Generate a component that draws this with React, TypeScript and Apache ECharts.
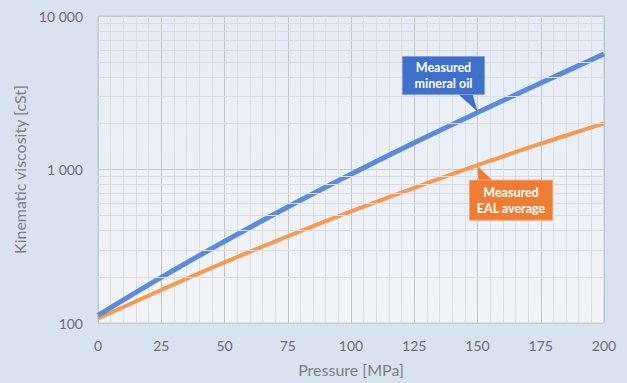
import React, { useEffect, useRef } from "react";
import * as echarts from "echarts";

const pressure = [0, 25, 50, 75, 100, 125, 150, 175, 200];
const mineralOil = [112, 198, 340, 570, 931, 1493, 2350, 3656, 5650];
const ealAverage = [107, 164, 248, 367, 533, 759, 1067, 1472, 2000];
const minorYTicks = [200, 300, 400, 500, 600, 700, 800, 900, 2000, 3000, 4000, 5000, 6000, 7000, 8000, 9000];
const xTicks = { min: 0, max: 200, interval: 25 };
const yRange = { min: 100, max: 10000 };
const calloutAt = 150;
const mineralLabel = ["Measured", "mineral oil"];
const ealLabel = ["Measured", "EAL average"];

const FONT = "Lato, 'Liberation Sans', sans-serif";
const BLUE = "#5b8bd9";
const ORANGE = "#f59a50";

function fmt(v: number) {
  return String(Math.round(v)).replace(/\B(?=(\d{3})+(?!\d))/g, " ");
}

export default function App() {
  const ref = useRef<HTMLDivElement>(null);
  useEffect(() => {
    if (!ref.current) return;
    const chart = echarts.init(ref.current, null, { renderer: "svg" });
    chart.setOption({
      animation: false,
      backgroundColor: "#d9e3f0",
      textStyle: { fontFamily: FONT },
      grid: {
        left: 98,
        right: 23,
        top: 16,
        bottom: 60,
        show: true,
        borderColor: "#c4c8cf",
        borderWidth: 1,
        backgroundColor: new echarts.graphic.LinearGradient(0, 0, 0, 1, [
          { offset: 0, color: "#e5ecf7" },
          { offset: 1, color: "#f3f4f7" },
        ]),
      },
      xAxis: {
        type: "value",
        min: xTicks.min,
        max: xTicks.max,
        interval: xTicks.interval,
        name: "Pressure [MPa]",
        nameLocation: "middle",
        nameGap: 38,
        nameTextStyle: { color: "#7a7f87", fontSize: 16, fontFamily: FONT },
        axisLine: { show: false },
        axisTick: { show: false },
        axisLabel: { color: "#6a6e75", fontSize: 14, margin: 15, fontFamily: FONT },
        splitLine: { show: true, lineStyle: { color: "#c3c5ca", width: 1 } },
        minorTick: { show: false, splitNumber: 5 },
        minorSplitLine: { show: true, lineStyle: { color: "#dcdee2", width: 1 } },
      },
      yAxis: {
        type: "log",
        logBase: 10,
        min: yRange.min,
        max: yRange.max,
        name: "Kinematic viscosity [cSt]",
        nameLocation: "middle",
        nameGap: 66,
        nameTextStyle: { color: "#7a7f87", fontSize: 16, fontFamily: FONT },
        axisLine: { show: false },
        axisTick: { show: false },
        axisLabel: {
          color: "#6a6e75",
          fontSize: 14,
          margin: 15,
          fontFamily: FONT,
          formatter: (v: number) => fmt(v),
        },
        splitLine: { show: true, lineStyle: { color: "#c8cacf", width: 1 } },
      },
      series: [
        {
          type: "line",
          data: [],
          z: 1,
          silent: true,
          markLine: {
            silent: true,
            symbol: "none",
            label: { show: false },
            animation: false,
            lineStyle: { color: "#dcdddf", width: 1, type: "solid" },
            data: minorYTicks.map((v) => ({ yAxis: v })),
          },
        },
        {
          name: "Measured mineral oil",
          type: "line",
          smooth: 0.4,
          showSymbol: false,
          z: 4,
          lineStyle: { color: BLUE, width: 5 },
          data: pressure.map((p, i) => [p, mineralOil[i]]),
        },
        {
          name: "Measured EAL average",
          type: "line",
          smooth: 0.4,
          showSymbol: false,
          z: 3,
          lineStyle: { color: ORANGE, width: 4 },
          data: pressure.map((p, i) => [p, ealAverage[i]]),
        },
      ],
    });

    const idx = pressure.indexOf(calloutAt);
    const tb = chart.convertToPixel({ gridIndex: 0 }, [calloutAt, mineralOil[idx]]) as number[];
    const to = chart.convertToPixel({ gridIndex: 0 }, [calloutAt, ealAverage[idx]]) as number[];
    const bx = tb[0] - 75, by = tb[1] - 56, bw = 82, bh = 38;
    const ox = to[0] - 8, oy = to[1] + 15, ow = 83, oh = 40;
    const textStyle = {
      fill: "#ffffff",
      fontSize: 12.5,
      fontWeight: "bold",
      fontFamily: FONT,
      align: "center",
      verticalAlign: "middle",
      lineHeight: 16,
    };
    chart.setOption({
      graphic: [
        {
          type: "polygon",
          z: 10,
          shape: { points: [[tb[0] - 20, by + bh - 1], [tb[0] - 5, by + bh - 1], [tb[0], tb[1] - 1]] },
          style: { fill: "#3f70cc" },
        },
        {
          type: "rect",
          z: 10,
          shape: { x: bx, y: by, width: bw, height: bh },
          style: { fill: "#3f70cc", stroke: "#7d9fdc", lineWidth: 1 },
        },
        {
          type: "text",
          z: 11,
          x: bx + bw / 2,
          y: by + bh / 2,
          style: { ...textStyle, text: mineralLabel.join("\n") },
        },
        {
          type: "polygon",
          z: 10,
          shape: { points: [[to[0], to[1] + 1], [to[0] + 1, oy + 1], [to[0] + 16, oy + 1]] },
          style: { fill: "#ee7d33" },
        },
        {
          type: "rect",
          z: 10,
          shape: { x: ox, y: oy, width: ow, height: oh },
          style: { fill: "#ee7d33", stroke: "#f3a36e", lineWidth: 1 },
        },
        {
          type: "text",
          z: 11,
          x: ox + ow / 2,
          y: oy + oh / 2,
          style: { ...textStyle, text: ealLabel.join("\n") },
        },
      ],
    });
    return () => chart.dispose();
  }, []);
  return (
    <div
      ref={ref}
      style={{ position: "fixed", left: 0, top: 0, width: 627, height: 383 }}
    />
  );
}
